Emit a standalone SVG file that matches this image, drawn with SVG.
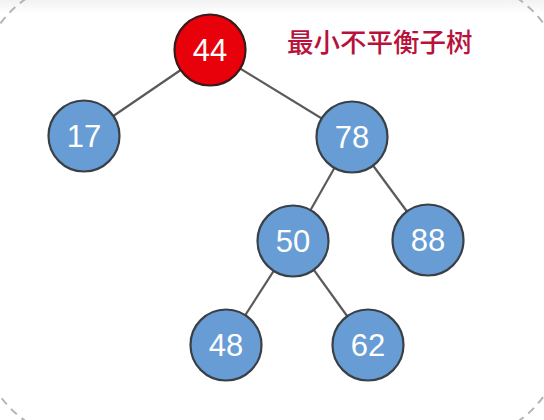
<svg xmlns="http://www.w3.org/2000/svg" width="544" height="420" viewBox="0 0 544 420">
<defs>
<linearGradient id="topband" x1="0" y1="0" x2="0" y2="1">
<stop offset="0" stop-color="#f2f2f2"/>
<stop offset="1" stop-color="#ffffff"/>
</linearGradient>
</defs>
<style>
.edge{stroke:#5a5a5a;stroke-width:2.2;fill:none}
.node{fill:#679dd4;stroke:#3b4047;stroke-width:2.2}
.root{fill:#e8000b;stroke:#3b1a1a;stroke-width:2.2}
.lbl{font-family:"Liberation Sans","Helvetica",Arial,sans-serif;font-size:31px;fill:#ffffff;text-anchor:middle}
.title{font-family:"Noto Sans CJK SC","Noto Sans",sans-serif;font-size:26.5px;font-weight:500;fill:#b8123c}
</style>
<rect x="0" y="0" width="544" height="420" fill="#ffffff"/>
<rect x="0" y="0" width="544" height="14" fill="url(#topband)"/>
<rect x="-20" y="-20" width="584" height="460" rx="106" ry="106" fill="none" stroke="#b4b4b4" stroke-width="2" stroke-dasharray="8 6"/>
<g id="connectors">
<line class="edge" x1="210" y1="50" x2="84" y2="136"/>
<line class="edge" x1="210" y1="50" x2="352" y2="137"/>
<line class="edge" x1="352" y1="137" x2="293" y2="241"/>
<line class="edge" x1="352" y1="137" x2="428" y2="240"/>
<line class="edge" x1="293" y1="241" x2="226" y2="345"/>
<line class="edge" x1="293" y1="241" x2="368" y2="345"/>
</g>
<g id="n44"><circle class="root" cx="210" cy="50" r="35.5"/><text class="lbl" x="210" y="61">44</text></g>
<g id="n17"><circle class="node" cx="84" cy="136" r="35.5"/><text class="lbl" x="84" y="147">17</text></g>
<g id="n78"><circle class="node" cx="352" cy="137" r="35.5"/><text class="lbl" x="352" y="148">78</text></g>
<g id="n50"><circle class="node" cx="293" cy="241" r="35.5"/><text class="lbl" x="293" y="252">50</text></g>
<g id="n88"><circle class="node" cx="428" cy="240" r="35.5"/><text class="lbl" x="428" y="251">88</text></g>
<g id="n48"><circle class="node" cx="226" cy="345" r="35.5"/><text class="lbl" x="226" y="356">48</text></g>
<g id="n62"><circle class="node" cx="368" cy="345" r="35.5"/><text class="lbl" x="368" y="356">62</text></g>
<text id="title" class="title" x="287" y="52">最小不平衡子树</text>
</svg>
